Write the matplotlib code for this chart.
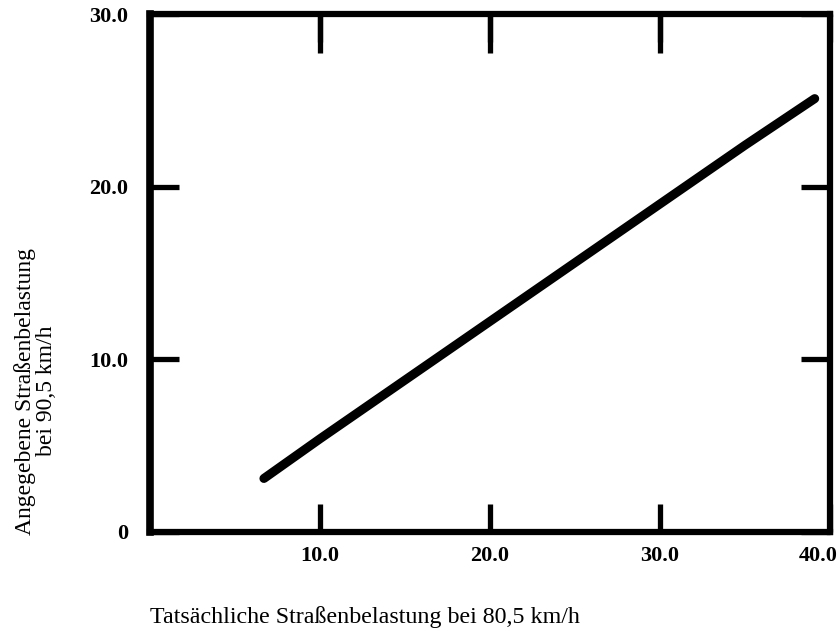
import matplotlib.pyplot as plt
import matplotlib.transforms as mtransforms

# values
actual_load = [6.7, 10.0, 15.0, 20.0, 25.0, 30.0, 35.0, 39.1]
stated_load = [3.1, 5.4, 8.8, 12.2, 15.6, 19.0, 22.4, 25.1]

x_ticks = [10, 20, 30, 40]
x_tick_labels = ['10.0', '20.0', '30.0', '40.0']
y_ticks = [0, 10, 20, 30]
y_tick_labels = ['0', '10.0', '20.0', '30.0']

plt.rcParams['font.family'] = ['Liberation Serif', 'DejaVu Serif']

fig = plt.figure(figsize=(8.4, 6.34), dpi=100)
ax = fig.add_axes([0.1786, 0.1609, 0.8095, 0.8170])

ax.plot(actual_load, stated_load, color='black', linewidth=6.5, solid_capstyle='round')

ax.set_xlim(0, 40)
ax.set_ylim(0, 30)

for side in ['right', 'top', 'bottom']:
    ax.spines[side].set_linewidth(4.5)
ax.spines['left'].set_linewidth(5.5)

ax.set_xticks(x_ticks)
ax.set_xticklabels(x_tick_labels, fontsize=16, fontweight='bold')
ax.set_yticks(y_ticks)
ax.set_yticklabels(y_tick_labels, fontsize=16, fontweight='bold')

ax.tick_params(axis='x', direction='in', length=20, width=3.8, bottom=True, top=True, pad=10)
ax.tick_params(axis='y', direction='in', length=21, width=3.8, left=True, right=True, pad=16)

# top ticks are longer in the original
top = ax.secondary_xaxis('top')
top.set_xticks([10, 20, 30])
top.tick_params(direction='in', length=28, width=3.8, labeltop=False)
top.spines['top'].set_visible(False)

# last x label sits a bit inside the figure
last = ax.get_xticklabels()[-1]
last.set_transform(last.get_transform() + mtransforms.ScaledTranslation(-12 / 100, 0, fig.dpi_scale_trans))

fig.text(150 / 840, 0.027, 'Tatsächliche Straßenbelastung bei 80,5 km/h',
         fontsize=17.3, ha='left', va='center')
fig.text(36 / 840, 0.383, 'Angegebene Straßenbelastung\nbei 90,5 km/h',
         fontsize=17, rotation=90, ha='center', va='center', multialignment='center',
         linespacing=1.0)

fig.savefig('out.png', dpi=100)
